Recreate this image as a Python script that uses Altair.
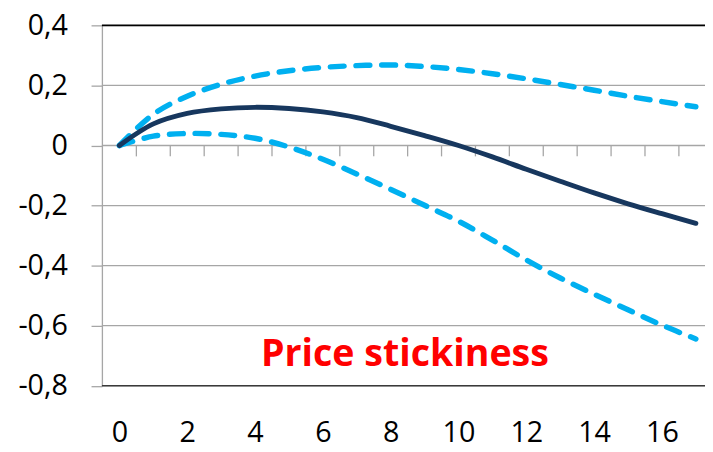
import altair as alt
import pandas as pd

periods = list(range(18))
irf = [0, 0.072, 0.107, 0.122, 0.127, 0.123, 0.112, 0.093, 0.064, 0.033, 0.000,
       -0.038, -0.079, -0.119, -0.158, -0.194, -0.227, -0.259]
upper = [0, 0.104, 0.164, 0.204, 0.231, 0.249, 0.260, 0.266, 0.268, 0.263, 0.253,
         0.239, 0.222, 0.203, 0.184, 0.164, 0.146, 0.129]
lower = [0, 0.031, 0.040, 0.037, 0.024, -0.005, -0.046, -0.095, -0.146, -0.199, -0.252,
         -0.315, -0.381, -0.441, -0.495, -0.547, -0.598, -0.644]
x_labels = [0, 2, 4, 6, 8, 10, 12, 14, 16]
y_ticks = [-0.8, -0.6, -0.4, -0.2, 0, 0.2, 0.4]
cat_bounds = [i + 0.5 for i in range(17)]
title_text = "Price stickiness"

df = pd.DataFrame({"t": periods, "irf": irf, "upper": upper, "lower": lower})

xs = alt.Scale(domain=[-0.516, 17.27], nice=False, zero=False)
ys = alt.Scale(domain=[-0.8, 0.4], nice=False, zero=False)

FONT = "Open Sans"

XAX = alt.Axis(
    values=x_labels,
    title=None,
    grid=False,
    domain=False,
    ticks=False,
    labelPadding=33,
    labelFont=FONT,
    labelFontSize=29,
    labelColor="#000000",
    labelFlush=False,
)
YAX = alt.Axis(
    values=y_ticks,
    title=None,
    grid=False,
    domain=True,
    domainColor="#A6A6A6",
    domainWidth=1.3,
    ticks=True,
    tickColor="#A6A6A6",
    tickWidth=1.3,
    tickSize=11,
    labelPadding=24,
    labelFont=FONT,
    labelFontSize=29,
    labelColor="#000000",
    labelExpr="datum.value == 0 ? '0' : replace(replace(format(datum.value, '.1f'), '.', ','), '\u2212', '-')",
)


def X(field):
    return alt.X(field, scale=xs, axis=XAX)


def Y(field):
    return alt.Y(field, scale=ys, axis=YAX)


base = alt.Chart(df)

grid = alt.Chart(pd.DataFrame({"v": [0.2, 0, -0.2, -0.4, -0.6]})).mark_rule(
    color="#A6A6A6", strokeWidth=1.3
).encode(y=Y("v:Q"))

top_bot = alt.Chart(pd.DataFrame({"v": [0.4, -0.8], "c": ["top", "bot"]})).mark_rule(
    strokeWidth=1.6
).encode(
    y=Y("v:Q"),
    color=alt.Color("c:N", scale=alt.Scale(domain=["top", "bot"], range=["#000000", "#3A3A3A"]), legend=None),
)

zero_ticks = alt.Chart(pd.DataFrame({"b": cat_bounds, "z": [0] * len(cat_bounds)})).mark_rule(
    color="#A6A6A6", strokeWidth=1.3, y2Offset=11
).encode(
    x=X("b:Q"),
    y=Y("z:Q"),
    y2="z:Q",
)

line_irf = base.mark_line(color="#17375E", strokeWidth=5, interpolate="catmull-rom", strokeCap="round").encode(
    x=X("t:Q"), y=Y("irf:Q")
)

dash_style = dict(color="#00B0F0", strokeWidth=5.5, strokeDash=[14, 12], strokeCap="round", interpolate="catmull-rom")
line_up = base.mark_line(**dash_style).encode(x=X("t:Q"), y=Y("upper:Q"))
line_lo = base.mark_line(**dash_style).encode(x=X("t:Q"), y=Y("lower:Q"))

label = alt.Chart(pd.DataFrame({"x": [8.42], "y": [-0.733], "txt": [title_text]})).mark_text(
    font=FONT, fontSize=38, fontWeight="bold", color="#FF0000", align="center", baseline="alphabetic"
).encode(
    x=X("x:Q"),
    y=Y("y:Q"),
    text="txt:N",
)

chart = alt.layer(grid, top_bot, zero_ticks, line_lo, line_up, line_irf, label).properties(
    width=610,
    height=364.6,
    autosize=alt.AutoSizeParams(type="none"),
    padding={"left": 95, "top": 15, "right": 0, "bottom": 64},
).configure_view(stroke=None).configure(background="white")

chart.save("out.html", embed_options={"renderer": "svg", "actions": False})
